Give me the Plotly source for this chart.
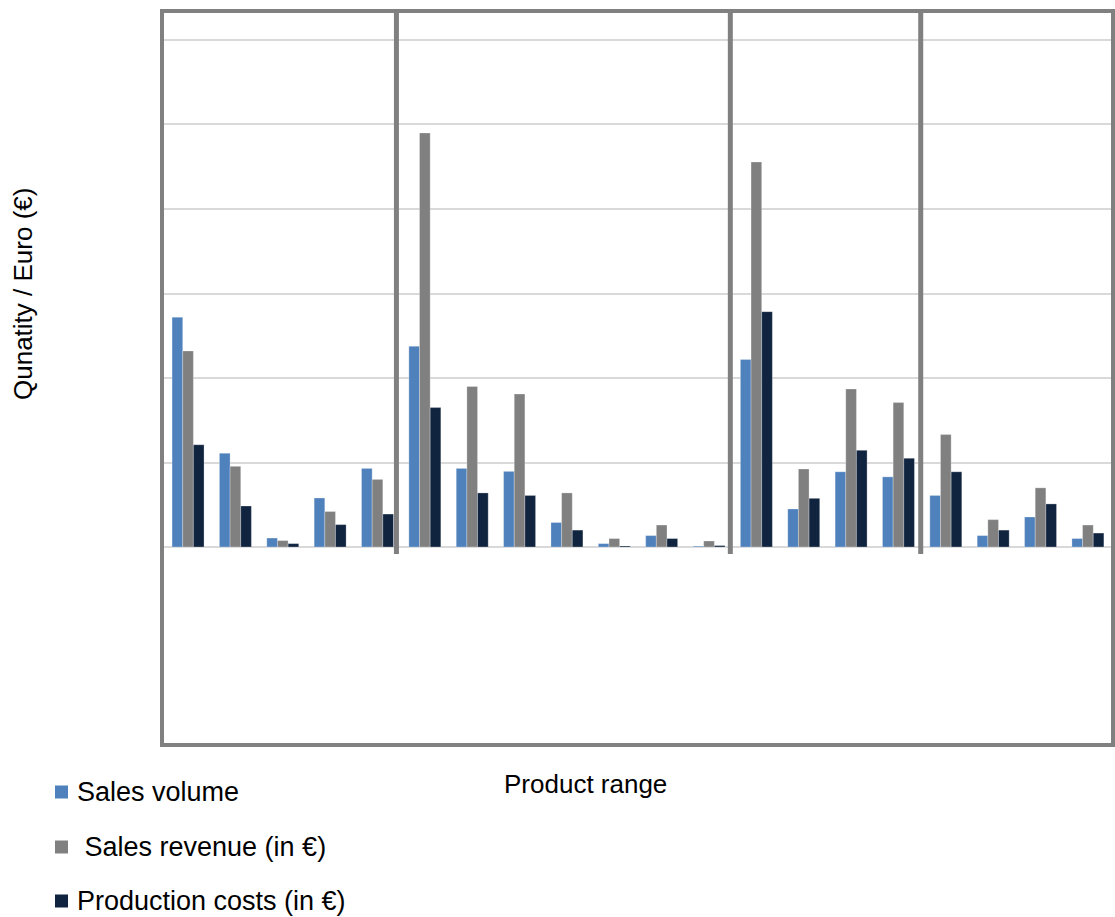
import plotly.graph_objects as go

# Product indices along the category axis (20 products in four ranges)
products = list(range(20))
# Separator positions between the product ranges (category units)
separators = [4.4, 11.45, 15.47]

sales_volume = [2720, 1110, 106, 580, 930,
                2375, 930, 895, 290, 40, 135, 10,
                2220, 450, 890, 830,
                610, 135, 355, 100]
sales_revenue = [2320, 955, 76, 420, 800,
                 4900, 1900, 1810, 640, 100, 260, 71,
                 4556, 923, 1870, 1710,
                 1330, 324, 700, 260]
production_costs = [1210, 485, 40, 265, 390,
                    1650, 640, 610, 200, 12, 100, 17,
                    2785, 576, 1144, 1050,
                    890, 200, 510, 165]

grid_values = [0, 1000, 2000, 3000, 4000, 5000, 6000]

series_names = ["Sales volume", "\u00a0Sales revenue (in €)", "Production costs (in €)"]
series_values = [sales_volume, sales_revenue, production_costs]
series_colors = ["#4F81BD", "#808080", "#10243F"]

FONT = "Liberation Sans, Arial, sans-serif"
FRAME = "#808080"

# Plot-area geometry in pixels
W, H = 1115, 917
L, R, T, B = 162, 2, 11, 172
PW, PH = W - L - R, H - T - B


def px_x(px):
    return (px - L) / PW


def px_y(py):
    return (H - B - py) / PH


fig = go.Figure()
for name, vals, color in zip(series_names, series_values, series_colors):
    fig.add_trace(go.Bar(
        x=products, y=vals, name=name, showlegend=False,
        marker=dict(color=color, line=dict(width=0.6, color="rgba(255,255,255,0.45)")),
    ))

# Separators between product ranges
for s in separators:
    fig.add_shape(type="line", xref="x", yref="paper",
                  x0=s, x1=s, y0=1, y1=px_y(554),
                  line=dict(color=FRAME, width=5), layer="above")

# Outer frame of the plot area
fig.add_shape(type="rect", xref="paper", yref="paper", x0=0, x1=1, y0=0, y1=1,
              line=dict(color=FRAME, width=4), layer="above")

# Key below the chart: colour square plus series name
legend_rows = [792, 847, 901]
for name, color, row in zip(series_names, series_colors, legend_rows):
    fig.add_shape(type="rect", xref="paper", yref="paper",
                  x0=px_x(55), x1=px_x(68), y0=px_y(row - 6.5), y1=px_y(row + 6.5),
                  fillcolor=color, line=dict(width=0))
    fig.add_annotation(text=name, xref="paper", yref="paper",
                       x=px_x(75), y=px_y(row), xanchor="left", yanchor="middle",
                       showarrow=False,
                       font=dict(family=FONT, size=27, color="black"))

fig.add_annotation(text="Product range", xref="paper", yref="paper",
                   x=px_x(585), y=px_y(784), xanchor="center", yanchor="middle",
                   showarrow=False, font=dict(family=FONT, size=26, color="black"))
fig.add_annotation(text="Qunatity / Euro (€)", xref="paper", yref="paper",
                   x=px_x(23), y=px_y(294), xanchor="center", yanchor="middle",
                   textangle=-90, showarrow=False,
                   font=dict(family=FONT, size=26, color="black"))

fig.update_layout(
    width=W, height=H,
    margin=dict(l=L, r=R, t=T, b=B),
    paper_bgcolor="white", plot_bgcolor="white",
    barmode="group", bargap=0.325, bargroupgap=0,
    font=dict(family=FONT, size=24, color="black"),
    showlegend=False,
    xaxis=dict(range=[-0.55, 19.53], showgrid=False, showticklabels=False,
               ticks="", zeroline=False, showline=False),
    yaxis=dict(range=[-2343, 6343], tickmode="array", tickvals=grid_values,
               showgrid=True, gridcolor="#D9D9D9", gridwidth=2,
               showticklabels=False, ticks="", zeroline=False, showline=False),
)

fig.write_html("out.html")
